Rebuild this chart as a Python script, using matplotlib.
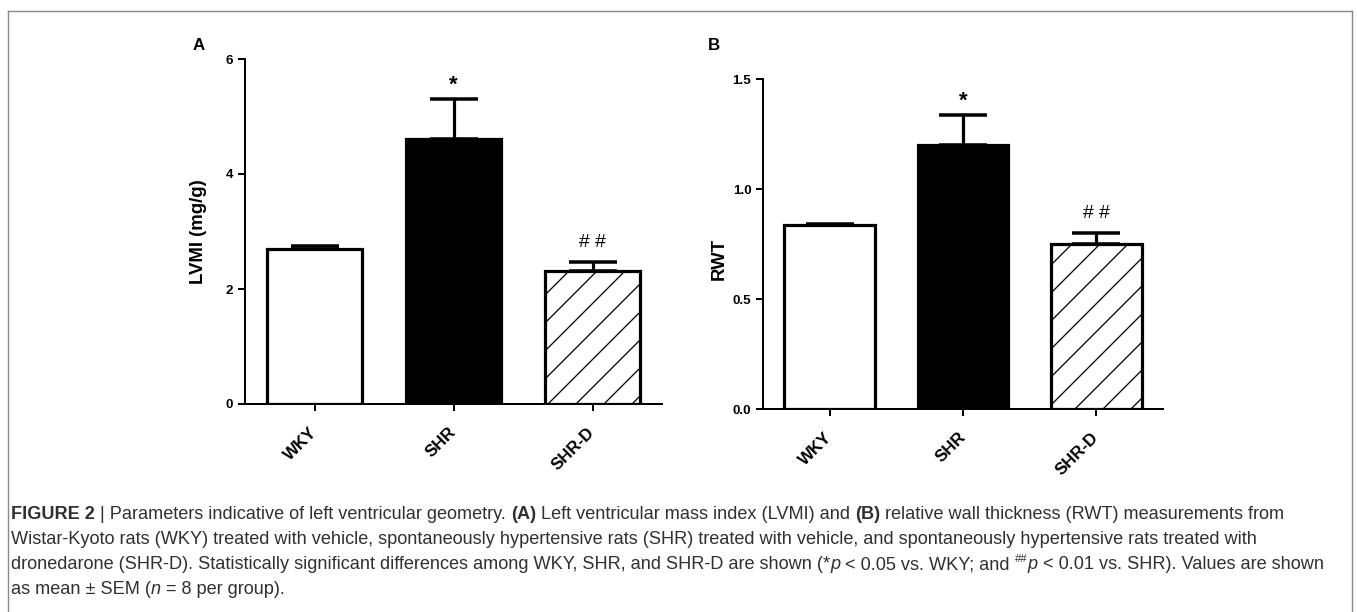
import matplotlib
matplotlib.use('Agg')
import matplotlib.pyplot as plt
from matplotlib.font_manager import FontProperties
from matplotlib.lines import Line2D

# ---------------- data ----------------
groups = ['WKY', 'SHR', 'SHR-D']
lvmi_mean = [2.70, 4.61, 2.31]
lvmi_sem = [0.05, 0.69, 0.16]
rwt_mean = [0.836, 1.20, 0.75]
rwt_sem = [0.005, 0.135, 0.05]
lvmi_ticks = [0, 2, 4, 6]
lvmi_ticklabels = ['0', '2', '4', '6']
rwt_ticks = [0.0, 0.5, 1.0, 1.5]
rwt_ticklabels = ['0.0', '0.5', '1.0', '1.5']
sig_marks = ['', '*', '# #']
panel_letters = ['A', 'B']
ylabels = ['LVMI (mg/g)', 'RWT']

caption_lines = [
    [("FIGURE 2", 'b'), (" | Parameters indicative of left ventricular geometry. ", 'r'), ("(A)", 'b'),
     (" Left ventricular mass index (LVMI) and ", 'r'), ("(B)", 'b'),
     (" relative wall thickness (RWT) measurements from", 'r')],
    [("Wistar-Kyoto rats (WKY) treated with vehicle, spontaneously hypertensive rats (SHR) treated with vehicle, and spontaneously hypertensive rats treated with", 'r')],
    [("dronedarone (SHR-D). Statistically significant differences among WKY, SHR, and SHR-D are shown (*", 'r'),
     ("p", 'i'), (" < 0.05 vs. WKY; and ", 'r'), ("##", 'sup'), ("p", 'i'),
     (" < 0.01 vs. SHR). Values are shown", 'r')],
    [("as mean \u00b1 SEM (", 'r'), ("n", 'i'), (" = 8 per group).", 'r')],
]

# ---------------- style ----------------
W, H = 1357, 612
DPI = 84
PX = 72.0 / DPI  # points per pixel
FONT = 'Liberation Sans'

plt.rcParams['font.family'] = [FONT, 'DejaVu Sans']
plt.rcParams['hatch.linewidth'] = 1.3 * PX
plt.rcParams['hatch.color'] = 'black'

fig = plt.figure(figsize=(W / DPI, H / DPI), dpi=DPI)
fig.patch.set_facecolor('white')

faces = ['white', 'black', 'white']
hatches = [None, None, '/']

panels = [
    dict(rect=[245 / W, 1 - 404 / H, 417 / W, 345 / H], mean=lvmi_mean, sem=lvmi_sem,
         ticks=lvmi_ticks, ticklabels=lvmi_ticklabels, ylim=(0, 6), ylabel=ylabels[0],
         labelxy=(-0.091, 0.5), letter=panel_letters[0], letterxy=(193, 50)),
    dict(rect=[763 / W, 1 - 409 / H, 400 / W, 330 / H], mean=rwt_mean, sem=rwt_sem,
         ticks=rwt_ticks, ticklabels=rwt_ticklabels, ylim=(0, 1.5), ylabel=ylabels[1],
         labelxy=(-0.089, 0.455), letter=panel_letters[1], letterxy=(708, 50)),
]

for p in panels:
    ax = fig.add_axes(p['rect'])
    x = list(range(len(groups)))
    ax.bar(x, p['mean'], width=0.68, color=faces, edgecolor='black',
           linewidth=3.2 * PX, hatch=hatches, zorder=2)
    ax.errorbar(x, p['mean'], yerr=[[0] * len(groups), p['sem']], fmt='none',
                ecolor='black', elinewidth=3.2 * PX, capsize=24 * PX,
                capthick=3.5 * PX, zorder=3)
    for i, s in enumerate(sig_marks):
        if not s:
            continue
        top = p['mean'][i] + p['sem'][i]
        if s == '*':
            ax.annotate(s, xy=(i, top), xytext=(0, 9 * PX), textcoords='offset points',
                        ha='center', va='baseline', fontsize=19, fontweight='bold',
                        family=FONT)
        else:
            ax.annotate(s, xy=(i, top), xytext=(0, 15 * PX), textcoords='offset points',
                        ha='center', va='baseline', fontsize=16.5, family=FONT)
    ax.set_xlim(-0.5, 2.5)
    ax.set_ylim(*p['ylim'])
    ax.set_yticks(p['ticks'])
    ax.set_yticklabels(p['ticklabels'], fontsize=11.5, fontweight='bold')
    ax.set_xticks(x)
    ax.set_xticklabels(groups, fontsize=14.5, fontweight='bold', rotation=45,
                       ha='right', va='center', rotation_mode='anchor')
    ax.tick_params(axis='both', direction='out', length=7 * PX, width=2 * PX, color='black')
    ax.tick_params(axis='y', pad=4)
    ax.tick_params(axis='x', pad=16)
    for sp in ['top', 'right']:
        ax.spines[sp].set_visible(False)
    for sp in ['left', 'bottom']:
        ax.spines[sp].set_linewidth(2 * PX)
    ax.set_ylabel(p['ylabel'], fontsize=16, fontweight='bold')
    ax.yaxis.set_label_coords(*p['labelxy'])
    lx, ly = p['letterxy']
    fig.text(lx / W, 1 - ly / H, p['letter'], fontsize=14.5, fontweight='bold',
             ha='left', va='baseline')

# ---------------- frame lines ----------------
frame_color = '#8a8a8a'
for xs, ys in [([8, 8], [H, 11]), ([8, 1352], [11, 11]), ([1352, 1352], [11, H])]:
    fig.add_artist(Line2D([v / W for v in xs], [1 - v / H for v in ys],
                          transform=fig.transFigure, color=frame_color, linewidth=1.4 * PX))

# ---------------- caption ----------------
cap_size = 15.5
cap_color = '#303030'

def prop_for(style):
    if style == 'b':
        return FontProperties(family=FONT, size=cap_size, weight='bold')
    if style == 'i':
        return FontProperties(family=FONT, size=cap_size, style='italic')
    if style == 'sup':
        return FontProperties(family=FONT, size=cap_size * 0.62)
    return FontProperties(family=FONT, size=cap_size)

renderer = fig.canvas.get_renderer()

def text_w(s, prop):
    w1, _, _ = renderer.get_text_width_height_descent('x' + s + 'x', prop, ismath=False)
    w0, _, _ = renderer.get_text_width_height_descent('xx', prop, ismath=False)
    return w1 - w0

baselines = [519, 544, 569, 594]
x0 = 11
for line, base in zip(caption_lines, baselines):
    xpos = x0
    for s, style in line:
        prop = prop_for(style)
        dy = -7 if style == 'sup' else 0
        fig.text(xpos / W, 1 - (base + dy) / H, s, fontproperties=prop, color=cap_color,
                 ha='left', va='baseline')
        xpos += text_w(s, prop)
        if style == 'sup':
            xpos += 0.5

fig.savefig('out.png', dpi=DPI, facecolor='white')
